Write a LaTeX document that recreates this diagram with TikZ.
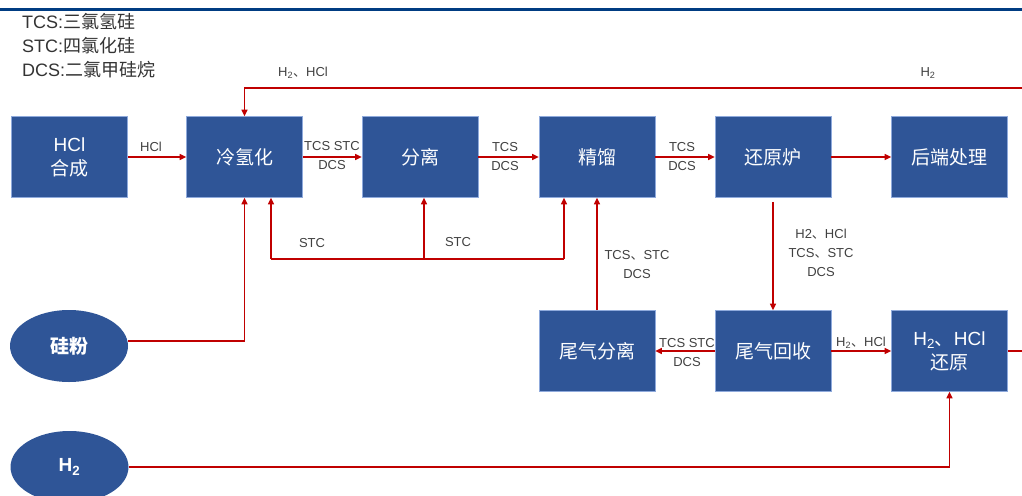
\documentclass[tikz,border=0pt]{standalone}
\usepackage{fontspec}
\setmainfont{Liberation Sans}
\newfontfamily\cjk{Noto Sans CJK SC}
\usetikzlibrary{arrows.meta,shapes.geometric}
\definecolor{boxblue}{HTML}{2F5597}
\definecolor{boxedge}{HTML}{8FAADC}
\definecolor{flowred}{HTML}{C00000}
\definecolor{rulerblue}{HTML}{003C82}
\definecolor{labelgray}{HTML}{404040}

\begin{document}
\begin{tikzpicture}[x=1pt, y=-1pt,
    proc/.style={draw=boxedge, line width=0.6pt, fill=boxblue, text=white, minimum width=116pt,
        minimum height=81pt, inner sep=0pt, align=center, font=\fontsize{19}{24}\selectfont},
    feed/.style={ellipse, fill=boxblue, text=white, minimum width=118pt, minimum height=72pt,
        inner sep=0pt, font=\fontsize{19}{24}\selectfont\bfseries},
    flow/.style={draw=flowred, line width=1.3pt, -{Triangle[length=6.5pt,width=6pt]}},
    pipe/.style={draw=flowred, line width=1.3pt},
    tag/.style={text=labelgray, inner sep=0pt, align=center, font=\fontsize{13}{19}\selectfont},
    legend/.style={anchor=west, inner sep=0pt, text=black!80, font=\fontsize{18}{24}\selectfont},
]
    \clip (0,0) rectangle (1022,495);
    \useasboundingbox (0,0) rectangle (1022,495);
    \draw[rulerblue, line width=2.5pt] (0,9.5) -- (1022,9.5);

    % legend
    \node[legend] (lg1) at (22,22) {TCS:{\cjk 三氯氢硅}};
    \node[legend] (lg2) at (22,46) {STC:{\cjk 四氯化硅}};
    \node[legend] (lg3) at (22,70) {DCS:{\cjk 二氯甲硅烷}};

    % main line
    \node[proc] (hcl)  at (69.5,157)  {HCl\\{\cjk 合成}};
    \node[proc] (cold) at (244.5,157) {\cjk 冷氢化};
    \node[proc] (sep)  at (420,157)   {\cjk 分离};
    \node[proc] (dist) at (597,157)   {\cjk 精馏};
    \node[proc] (furn) at (773,157)   {\cjk 还原炉};
    \node[proc] (post) at (949.5,157) {\cjk 后端处理};

    % tail gas line
    \node[proc] (tsep) at (597,351)   {\cjk 尾气分离};
    \node[proc] (trec) at (773,351)   {\cjk 尾气回收};
    \node[proc] (hred) at (949.5,351) {H\textsubscript{2}{\cjk 、}HCl\\{\cjk 还原}};

    % raw materials
    \node[feed] (si)   at (69,346)  {\cjk 硅粉};
    \node[feed] (htwo) at (69.5,467) {H\textsubscript{2}};

    \coordinate (topR) at (1022,88);
    \coordinate (outR) at (1022,351);
    \coordinate (stc1) at (271,259);
    \coordinate (stc2) at (424,259);
    \coordinate (stc3) at (564,259);

    \draw[flow] (hcl) -- (cold);
    \draw[flow] (cold) -- (sep);
    \draw[flow] (sep) -- (dist);
    \draw[flow] (dist) -- (furn);
    \draw[flow] (furn) -- (post);
    \draw[flow] (topR) -| (cold.north);

    \draw[pipe] (stc1) -- (stc3);
    \draw[flow] (stc1) -- (stc1 |- cold.south);
    \draw[flow] (stc2) -- (stc2 |- sep.south);
    \draw[flow] (stc3) -- (stc3 |- dist.south);

    \draw[flow] ([yshift=5pt]si.east) -| (cold.south);
    \draw[flow] (tsep) -- (dist);
    \draw[flow] ([yshift=-4pt]furn.south) -- (trec.north);
    \draw[flow] (trec) -- (tsep);
    \draw[flow] (trec) -- (hred);
    \draw[pipe] (hred.east) -- (outR);
    \draw[flow] (htwo.east) -| (hred.south);

    % stream labels
    \node[tag] (t1)  at (151,147)   {HCl};
    \node[tag] (t2)  at (332,156)   {TCS STC\\DCS};
    \node[tag] (t3)  at (505,156.5) {TCS\\DCS};
    \node[tag] (t4)  at (682,156.5) {TCS\\DCS};
    \node[tag] (t5)  at (303,73)    {H\textsubscript{2}{\cjk 、}HCl};
    \node[tag] (t6)  at (928,73)    {H\textsubscript{2}};
    \node[tag] (t7)  at (312,243)   {STC};
    \node[tag] (t8)  at (458,242)   {STC};
    \node[tag] (t9)  at (637,264.5) {TCS{\cjk 、}STC\\DCS};
    \node[tag] (t10) at (821,252.5) {H2{\cjk 、}HCl\\TCS{\cjk 、}STC\\DCS};
    \node[tag] (t11) at (687,352.5) {TCS STC\\DCS};
    \node[tag] (t12) at (861,343)   {H\textsubscript{2}{\cjk 、}HCl};
\end{tikzpicture}
\end{document}
